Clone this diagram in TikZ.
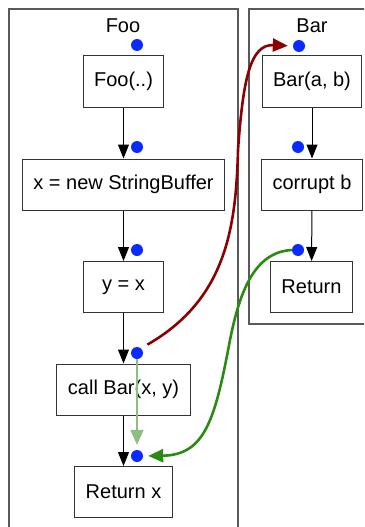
\documentclass[tikz,border=0pt]{standalone}
\usepackage{fontspec}
\setmainfont{Liberation Sans}
\usetikzlibrary{arrows.meta}
\definecolor{dotblue}{HTML}{0A2BFF}
\definecolor{darkred}{HTML}{8B0000}
\definecolor{forestgreen}{HTML}{2A8A12}
\definecolor{seagreen}{HTML}{8FBC80}
\begin{document}
\begin{tikzpicture}[x=1pt,y=-1pt,
    box/.style={draw=black!80, line width=1pt, minimum width=80pt, minimum height=51pt,
      inner xsep=11pt, font=\fontsize{20}{24}\selectfont},
    pt/.style={circle, fill=dotblue, inner sep=0pt, minimum size=12pt},
    flow/.style={-{Triangle[length=14pt,width=11pt]}, line width=1pt},
    jump/.style={-{Triangle[length=15pt,width=13pt]}, line width=2.6pt, shorten >=5pt}]
  \useasboundingbox (0,0) rectangle (364,527);
  \clip (0,0) rectangle (364,527);
  % clusters
  \draw[black!65, line width=1.5pt] (9,9) rectangle (238,545);
  \draw[black!65, line width=1.5pt] (249,9) rectangle (380,324);
  \node[font=\fontsize{20}{24}\selectfont] (foolabel) at (123,26) {Foo};
  \node[font=\fontsize{20}{24}\selectfont] (barlabel) at (312,26) {Bar};
  % Foo
  \node[box] (foo) at (123.5,81.5) {Foo(..)};
  \node[box] (newsb) at (123.5,184.5) {x = new StringBuffer};
  \node[box] (assign) at (123.5,287) {y = x};
  \node[box] (callbar) at (123.5,389.5) {call Bar(x, y)};
  \node[box] (retx) at (123.5,492) {Return x};
  \node[pt] (dfoo) at (137,45) {};
  \node[pt] (dnewsb) at (137,147) {};
  \node[pt] (dassign) at (137,250) {};
  \node[pt] (dcallbar) at (137,353) {};
  \node[pt] (dretx) at (137,456) {};
  \draw[flow] (foo) -- (newsb);
  \draw[flow] (newsb) -- (assign);
  \draw[flow] (assign) -- (callbar);
  \draw[flow] (callbar) -- (retx);
  % Bar
  \node[box] (bar) at (312,81.5) {Bar(a, b)};
  \node[box] (corrupt) at (312,184.5) {corrupt b};
  \node[box] (retb) at (311.5,287) {Return};
  \node[pt] (dbar) at (299,46) {};
  \node[pt] (dcorrupt) at (298,147) {};
  \node[pt] (dretb) at (298,250) {};
  \draw[flow] (bar) -- (corrupt);
  \draw[flow] (corrupt) -- (retb);
  % call and return edges
  \draw[jump, seagreen, line width=2pt] (dcallbar) -- (dretx);
  \draw[jump, darkred] (dcallbar.north east) ++(6,-4)
    .. controls (225,300) and (236,230) .. (238,150)
    .. controls (243,80) and (250,44) .. (dbar.west);
  \draw[jump, forestgreen] (dretb.west)
    .. controls (255,252) and (240,290) .. (230,340)
    .. controls (215,420) and (205,455) .. (dretx.east);
\end{tikzpicture}
\end{document}
